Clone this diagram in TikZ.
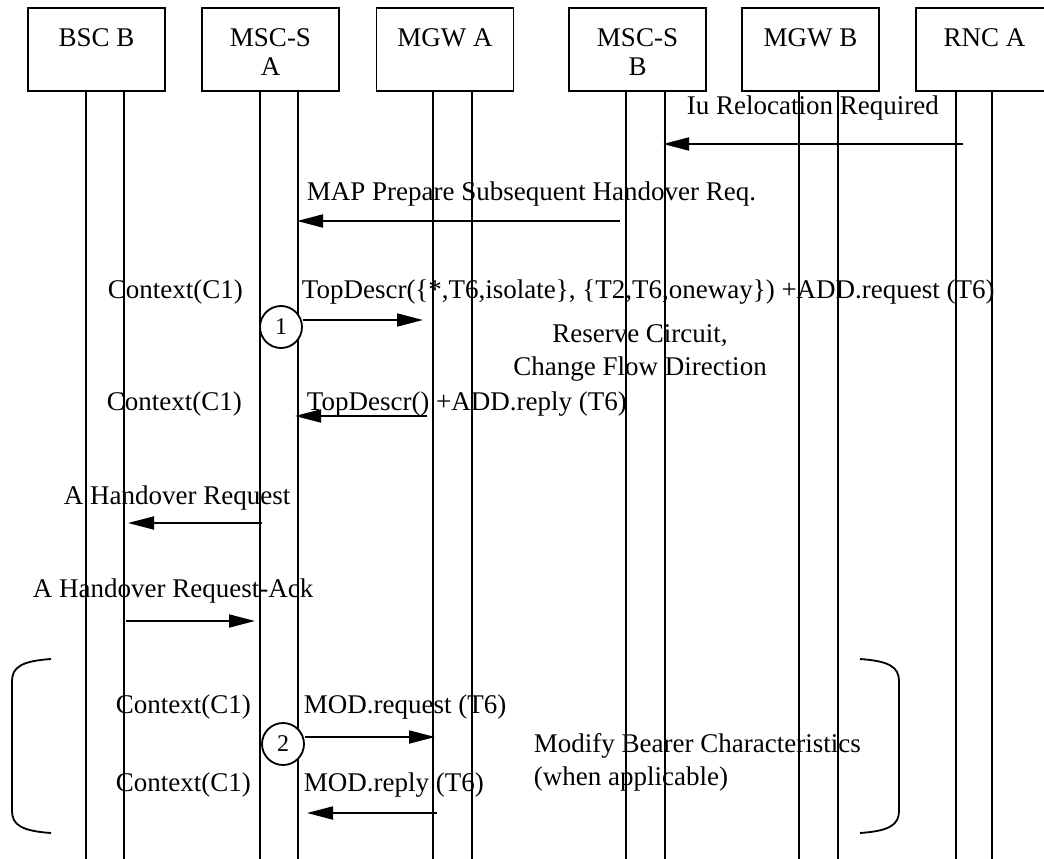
\documentclass[tikz,border=0pt]{standalone}
\usepackage{fontspec}
\setmainfont{Liberation Serif}
\usetikzlibrary{arrows.meta,calc}
\tikzset{
  every picture/.style={line width=1.8pt},
  box/.style={draw, rectangle, minimum width=137pt, minimum height=83pt, inner sep=0pt},
  boxlbl/.style={anchor=north, inner sep=0pt, align=center, font=\fontsize{27}{29}\selectfont},
  lbl/.style={anchor=base west, inner sep=0pt, font=\fontsize{27}{33}\selectfont},
  mlbl/.style={inner sep=0pt, font=\fontsize{27}{33}\selectfont},
  life/.style={line width=1.8pt},
  msg/.style={line width=1.8pt, -{Triangle[length=26pt,width=13pt]}},
  num/.style={draw, circle, fill=white, minimum size=42pt, inner sep=0pt, font=\fontsize{24}{24}\selectfont},
  brack/.style={line width=1.8pt}
}
\begin{document}
\begin{tikzpicture}[x=1pt,y=-1pt]
\useasboundingbox (0,0) rectangle (1044,859);
\fill[white] (0,0) rectangle (1044,859);
\clip (0,0) rectangle (1044,859);

% boxes
\node[box] (bscb) at (96.5,49.5) {};
\node[box] (mscsa) at (270.5,49.5) {};
\node[box] (mgwa) at (445,49.5) {};
\node[box] (mscsb) at (637.5,49.5) {};
\node[box] (mgwb) at (810.5,49.5) {};
\node[box] (rnca) at (984.5,49.5) {};

\node[boxlbl] (bscb-t) at (96.5,28) {BSC B};
\node[boxlbl] (mscsa-t) at (270.5,28) {MSC-S\\A};
\node[boxlbl] (mgwa-t) at (445,28) {MGW A};
\node[boxlbl] (mscsb-t) at (637.5,28) {MSC-S\\B};
\node[boxlbl] (mgwb-t) at (810.5,28) {MGW B};
\node[boxlbl] (rnca-t) at (984.5,28) {RNC A};

% lifelines
\foreach \n/\pa/\pb in {bscb/59/97, mscsa/59/97, mgwa/57/96, mscsb/58/97, mgwb/58/97, rnca/41/77}{
  \draw[life] ($(\n.south west)+(\pa,0)$) -- ++(0,770);
  \draw[life] ($(\n.south west)+(\pb,0)$) -- ++(0,770);
}

% message endpoints
\coordinate (m1s) at (963,144);  \coordinate (m1e) at (663,144);
\coordinate (m2s) at (620,221);  \coordinate (m2e) at (297,221);
\coordinate (m3e) at (423,320);
\coordinate (m4s) at (427,416);  \coordinate (m4e) at (295,416);
\coordinate (m5s) at (262,523);  \coordinate (m5e) at (128,523);
\coordinate (m6s) at (126,621);  \coordinate (m6e) at (255,621);
\coordinate (m7e) at (435,737);
\coordinate (m8s) at (437,813);  \coordinate (m8e) at (307,813);

% circles
\node[num] (c1) at (281,327) {1};
\node[num] (c2) at (283,744) {2};

% arrows
\draw[msg] (m1s) -- (m1e);
\draw[msg] (m2s) -- (m2e);
\draw[msg] (c1.east |- m3e) -- (m3e);
\draw[msg] (m4s) -- (m4e);
\draw[msg] (m5s) -- (m5e);
\draw[msg] (m6s) -- (m6e);
\draw[msg] (c2.east |- m7e) -- (m7e);
\draw[msg] (m8s) -- (m8e);

% labels
\node[lbl] (t1) at (686,114) {Iu Relocation Required};
\node[lbl] (t2) at (306,200) {MAP Prepare Subsequent Handover Req.};
\node[lbl] (ctx1) at (107,298) {Context(C1)};
\node[lbl] (t3) at (301,298) {TopDescr(\{*,T6,isolate\}, \{T2,T6,oneway\}) +ADD.request (T6)};
\node[mlbl, anchor=north, align=center] (t4) at (640,324) {Reserve Circuit,\\Change Flow Direction};
\node[lbl] (ctx2) at (106,410) {Context(C1)};
\node[lbl] (t5) at (306,410) {TopDescr() +ADD.reply (T6)};
\node[lbl] (t6) at (63,504) {A Handover Request};
\node[lbl] (t7) at (32,597) {A Handover Request-Ack};
\node[lbl] (ctx3) at (115,713) {Context(C1)};
\node[lbl] (t8) at (303,713) {MOD.request (T6)};
\node[lbl] (ctx4) at (115,791) {Context(C1)};
\node[lbl] (t9) at (303,791) {MOD.reply (T6)};
\node[mlbl, anchor=north west, align=left] (t10) at (533,733) {Modify Bearer Characteristics\\(when applicable)};

% brackets
\draw[brack] (51,659) .. controls (22,661) and (12,667) .. (12,681) -- (12,811) .. controls (12,825) and (22,831) .. (51,833);
\draw[brack] (860,659) .. controls (889,661) and (899,667) .. (899,681) -- (899,811) .. controls (899,825) and (889,831) .. (860,833);
\end{tikzpicture}
\end{document}
